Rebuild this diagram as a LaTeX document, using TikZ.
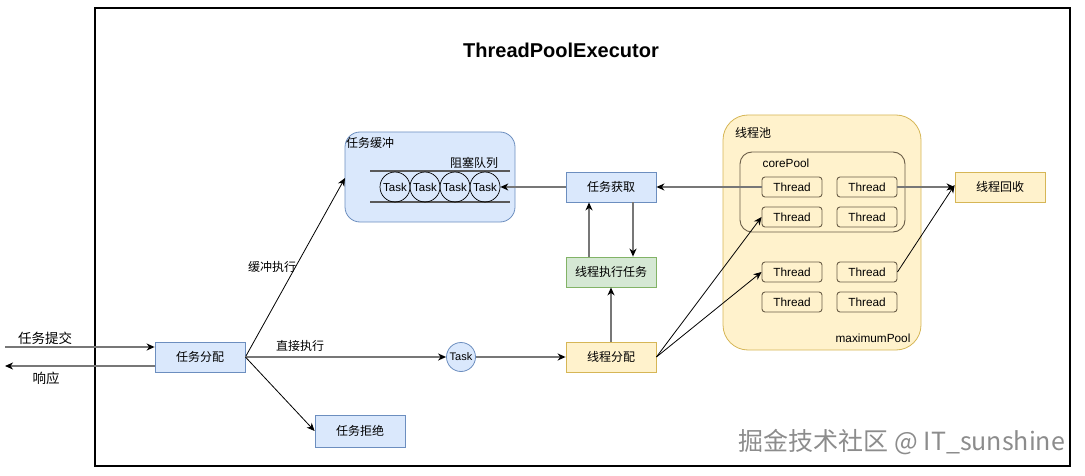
\documentclass[tikz,border=0pt]{standalone}
\usepackage{fontspec}
\setmainfont{Liberation Sans}
\newfontfamily\cjk{Noto Sans CJK SC}
\usetikzlibrary{arrows.meta}
\definecolor{bfill}{HTML}{DAE8FC}
\definecolor{bdraw}{HTML}{6C8EBF}
\definecolor{gfill}{HTML}{D5E8D4}
\definecolor{gdraw}{HTML}{82B366}
\definecolor{yfill}{HTML}{FFF2CC}
\definecolor{ydraw}{HTML}{D6B656}
\definecolor{thrdraw}{HTML}{6B5E48}
\definecolor{conn}{HTML}{777777}
\definecolor{wmark}{HTML}{8C8C8C}
\tikzset{
  box/.style={draw, minimum width=90pt, minimum height=30pt, inner sep=0pt, line width=0.8pt, font=\cjk\fontsize{12}{14}\selectfont},
  bluebox/.style={box, fill=bfill, draw=bdraw},
  greenbox/.style={box, fill=gfill, draw=gdraw},
  yellowbox/.style={box, fill=yfill, draw=ydraw},
  thr/.style={draw=thrdraw, rounded corners=3pt, minimum width=60pt, minimum height=20pt, inner sep=0pt, line width=0.9pt, font=\fontsize{11.8}{13}\selectfont},
  qtask/.style={circle, draw=black, minimum size=30pt, inner sep=0pt, line width=0.7pt, font=\fontsize{11.5}{13}\selectfont},
  cjklabel/.style={inner sep=0pt, font=\cjk\fontsize{12}{14}\selectfont},
  biglabel/.style={inner sep=0pt, font=\cjk\fontsize{13.5}{15}\selectfont},
  lat/.style={inner sep=0pt, font=\fontsize{11.8}{13}\selectfont},
  straight/.style={draw=conn, line width=1.3pt, -{Stealth[length=8pt, width=7pt, inset=2.5pt, color=black]}},
  diag/.style={draw=black, line width=0.8pt, -{Stealth[length=8pt, width=7pt, inset=2.5pt]}},
}
\begin{document}
\begin{tikzpicture}[x=1pt, y=-1pt]
\useasboundingbox (0,0) rectangle (1085,476);
% frame
\draw[line width=2.4pt] (95,8) rectangle (1070,466);
\node[font=\bfseries\fontsize{20}{24}\selectfont, inner sep=0pt] (title) at (561,50) {ThreadPoolExecutor};

% buffer container
\filldraw[fill=bfill, draw=bdraw, line width=0.8pt, rounded corners=15pt] (345,132) rectangle (515,222);
\node[cjklabel, anchor=west] (buflbl) at (346,143) {任务缓冲};
\node[cjklabel] (queuelbl) at (474,163) {阻塞队列};
\coordinate (ql1a) at (370,171); \coordinate (ql1b) at (510,171);
\coordinate (ql2a) at (370,202); \coordinate (ql2b) at (510,202);
\draw[line width=1.2pt, draw=black!65] (ql1a) -- (ql1b);
\draw[line width=1.2pt, draw=black!65] (ql2a) -- (ql2b);
\node[qtask] (q1) at (395,187) {Task};
\node[qtask] (q2) at (425,187) {Task};
\node[qtask] (q3) at (455,187) {Task};
\node[qtask] (q4) at (485,187) {Task};

% thread pool container
\filldraw[fill=yfill, draw=ydraw, line width=0.8pt, rounded corners=25pt] (723,115) rectangle (921,350);
\node[cjklabel, anchor=west] (poollbl) at (735,133) {线程池};
\node[lat] (maxlbl) at (873,338) {maximumPool};
\draw[draw=thrdraw, line width=0.9pt, rounded corners=12pt] (740,152) rectangle (905,232);
\node[lat] (corelbl) at (786,163) {corePool};
\node[thr] (t1) at (792,187) {Thread};
\node[thr] (t2) at (867,187) {Thread};
\node[thr] (t3) at (792,217) {Thread};
\node[thr] (t4) at (867,217) {Thread};
\node[thr] (t5) at (792,272) {Thread};
\node[thr] (t6) at (867,272) {Thread};
\node[thr] (t7) at (792,302) {Thread};
\node[thr] (t8) at (867,302) {Thread};

% boxes
\node[bluebox] (fenpei) at (200,357) {任务分配};
\node[bluebox, minimum height=32pt] (jujue) at (360,431) {任务拒绝};
\node[bluebox] (huoqu) at (611,187) {任务获取};
\node[greenbox] (zhixing) at (611,272) {线程执行任务};
\node[yellowbox] (xcfp) at (611,357) {线程分配};
\node[yellowbox] (huishou) at (1000,187) {线程回收};
\node[circle, fill=bfill, draw=bdraw, line width=0.8pt, minimum size=29pt, inner sep=0pt, font=\fontsize{11}{13}\selectfont] (task) at (461,357) {Task};

% left side
\coordinate (inL) at (5,347);
\coordinate (outL) at (5,366);
\node[biglabel] (tijiao) at (45,338) {任务提交};
\node[biglabel] (xiangying) at (46,378) {响应};
\draw[straight] (inL) -- (inL -| fenpei.west);
\draw[straight] (outL -| fenpei.west) -- (outL);

% from dispatcher
\draw[diag] (fenpei.east) -- (345,178);
\node[cjklabel] (lbl1) at (272,267) {缓冲执行};
\draw[straight] (fenpei.east) -- (task.west);
\node[cjklabel] (lbl2) at (300,346) {直接执行};
\draw[diag] (fenpei.east) -- (jujue.west);
\draw[straight] (task.east) -- (xcfp.west);

% middle column
\draw[straight] (huoqu.west) -- (q4.east);
\draw[straight] ([xshift=-22pt]zhixing.north) -- ([xshift=-22pt]huoqu.south);
\draw[straight] ([xshift=22pt]huoqu.south) -- ([xshift=22pt]zhixing.north);
\draw[straight] (xcfp.north) -- (zhixing.south);
\draw[straight] (t1.west) -- (huoqu.east);

% to threads
\draw[diag] (xcfp.east) -- (t3.west);
\draw[diag] (xcfp.east) -- (t5.west);
\draw[straight] (t2.east) -- (huishou.west);
\draw[diag] (t6.east) -- ([yshift=2pt]huishou.west);

% watermark
\node[inner sep=0pt, text=wmark, font=\cjk\fontsize{25}{29}\selectfont] (wm) at (902,442) {掘金技术社区 @ IT\_sunshine};
\end{tikzpicture}
\end{document}
